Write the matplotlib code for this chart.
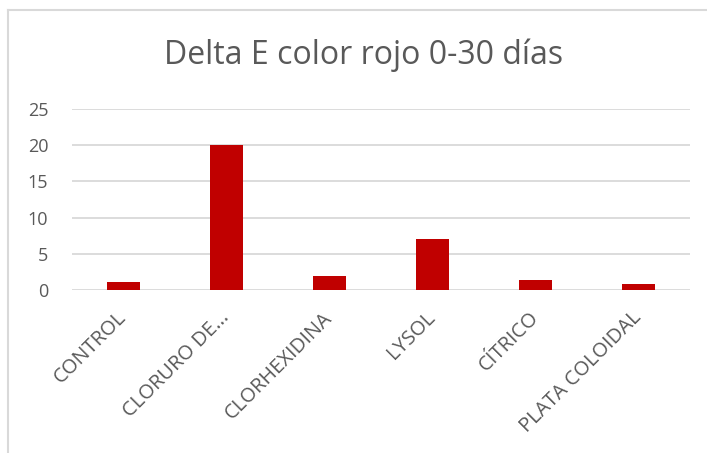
import matplotlib.pyplot as plt
from matplotlib.lines import Line2D

plt.rcParams['font.family'] = ['Open Sans', 'DejaVu Sans']

categorias = ['CONTROL', 'CLORURO DE...', 'CLORHEXIDINA', 'LYSOL', 'CÍTRICO', 'PLATA COLOIDAL']
delta_e = [1.15, 20.0, 2.0, 7.0, 1.35, 0.8]
y_ticks = [0, 5, 10, 15, 20, 25]

rojo = '#C00000'
gris_texto = '#595959'
gris_linea = '#D9D9D9'

fig = plt.figure(figsize=(7.07, 4.53), dpi=100)
ax = fig.add_axes([72 / 707, 1 - 290 / 453, 618 / 707, 181 / 453])

x = range(len(categorias))
ax.bar(x, delta_e, width=0.32, color=rojo, zorder=3)

ax.set_xlim(-0.5, len(categorias) - 0.5)
ax.set_ylim(0, 25)
ax.set_yticks(y_ticks)
ax.grid(axis='y', color=gris_linea, linewidth=1.3, zorder=0)
for s in ax.spines.values():
    s.set_visible(False)
ax.tick_params(length=0)
ax.tick_params(axis='y', labelsize=13, labelcolor=gris_texto, pad=17)

ax.set_xticks(list(x))
ax.set_xticklabels(categorias, rotation=45, ha='right', va='center',
                   rotation_mode='anchor', fontsize=14.5, color=gris_texto)
ax.tick_params(axis='x', pad=18)

fig.text(364 / 707, 1 - 55 / 453, 'Delta E color rojo 0-30 días', ha='center', va='center',
         fontsize=23, color=gris_texto)

# marco del área del gráfico
fig.add_artist(Line2D([8 / 707, 8 / 707], [0, 1 - 10 / 453], transform=fig.transFigure,
                      color=gris_linea, linewidth=1.5))
fig.add_artist(Line2D([8 / 707, 1], [1 - 10 / 453, 1 - 10 / 453], transform=fig.transFigure,
                      color=gris_linea, linewidth=1.5))

fig.savefig('out.png', dpi=100)
